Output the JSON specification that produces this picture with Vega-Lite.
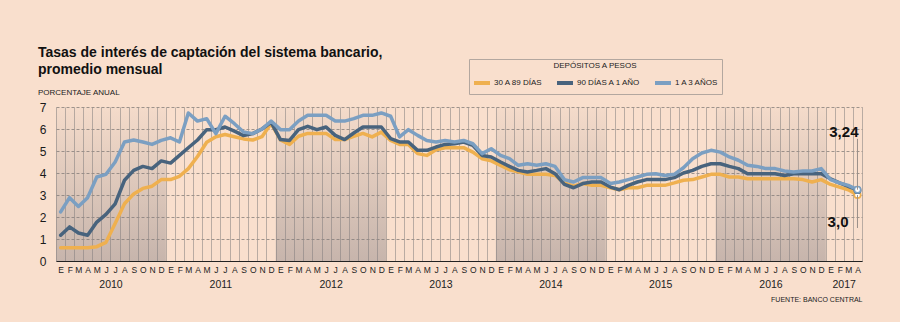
{
"$schema":"https://vega.github.io/schema/vega-lite/v6.json",
"autosize":"none","width":806,"height":154,
"padding":{"left":56,"top":107,"right":38,"bottom":61},
"background":"#F9DFCD",
"config":{"view":{"stroke":null},"font":"Liberation Sans",
 "axisY":{"grid":true,"gridColor":"#9E938B","gridDash":[3,2],"gridWidth":1,"ticks":false,"domain":false,"labelPadding":10,"labelOverlap":false,"labelFont":"Liberation Sans","labelFontSize":12,"labelColor":"#1A1A1A"}},
"title":{"text":["Tasas de interés de captación del sistema bancario,","promedio mensual"],"subtitle":"PORCENTAJE ANUAL","anchor":"start","frame":"group","dx":-18,"dy":48,"offset":10,"font":"Liberation Sans","fontSize":14,"fontWeight":"bold","color":"#111111","lineHeight":16.5,"subtitleFont":"Liberation Sans","subtitleFontSize":8,"subtitleColor":"#222222","subtitlePadding":12},
"datasets":{
"tasas":[
{"mes":"2010-01","serie":"30 A 89 DÍAS","tasa":0.6},{"mes":"2010-02","serie":"30 A 89 DÍAS","tasa":0.6},{"mes":"2010-03","serie":"30 A 89 DÍAS","tasa":0.6},{"mes":"2010-04","serie":"30 A 89 DÍAS","tasa":0.6},{"mes":"2010-05","serie":"30 A 89 DÍAS","tasa":0.65},{"mes":"2010-06","serie":"30 A 89 DÍAS","tasa":0.85},{"mes":"2010-07","serie":"30 A 89 DÍAS","tasa":1.7},{"mes":"2010-08","serie":"30 A 89 DÍAS","tasa":2.6},{"mes":"2010-09","serie":"30 A 89 DÍAS","tasa":3.05},{"mes":"2010-10","serie":"30 A 89 DÍAS","tasa":3.3},{"mes":"2010-11","serie":"30 A 89 DÍAS","tasa":3.4},{"mes":"2010-12","serie":"30 A 89 DÍAS","tasa":3.7},
{"mes":"2011-01","serie":"30 A 89 DÍAS","tasa":3.7},{"mes":"2011-02","serie":"30 A 89 DÍAS","tasa":3.85},{"mes":"2011-03","serie":"30 A 89 DÍAS","tasa":4.2},{"mes":"2011-04","serie":"30 A 89 DÍAS","tasa":4.75},{"mes":"2011-05","serie":"30 A 89 DÍAS","tasa":5.4},{"mes":"2011-06","serie":"30 A 89 DÍAS","tasa":5.65},{"mes":"2011-07","serie":"30 A 89 DÍAS","tasa":5.75},{"mes":"2011-08","serie":"30 A 89 DÍAS","tasa":5.65},{"mes":"2011-09","serie":"30 A 89 DÍAS","tasa":5.55},{"mes":"2011-10","serie":"30 A 89 DÍAS","tasa":5.5},{"mes":"2011-11","serie":"30 A 89 DÍAS","tasa":5.65},{"mes":"2011-12","serie":"30 A 89 DÍAS","tasa":6.25},
{"mes":"2012-01","serie":"30 A 89 DÍAS","tasa":5.5},{"mes":"2012-02","serie":"30 A 89 DÍAS","tasa":5.3},{"mes":"2012-03","serie":"30 A 89 DÍAS","tasa":5.67},{"mes":"2012-04","serie":"30 A 89 DÍAS","tasa":5.8},{"mes":"2012-05","serie":"30 A 89 DÍAS","tasa":5.8},{"mes":"2012-06","serie":"30 A 89 DÍAS","tasa":5.8},{"mes":"2012-07","serie":"30 A 89 DÍAS","tasa":5.52},{"mes":"2012-08","serie":"30 A 89 DÍAS","tasa":5.52},{"mes":"2012-09","serie":"30 A 89 DÍAS","tasa":5.67},{"mes":"2012-10","serie":"30 A 89 DÍAS","tasa":5.8},{"mes":"2012-11","serie":"30 A 89 DÍAS","tasa":5.64},{"mes":"2012-12","serie":"30 A 89 DÍAS","tasa":5.86},
{"mes":"2013-01","serie":"30 A 89 DÍAS","tasa":5.48},{"mes":"2013-02","serie":"30 A 89 DÍAS","tasa":5.3},{"mes":"2013-03","serie":"30 A 89 DÍAS","tasa":5.3},{"mes":"2013-04","serie":"30 A 89 DÍAS","tasa":4.88},{"mes":"2013-05","serie":"30 A 89 DÍAS","tasa":4.8},{"mes":"2013-06","serie":"30 A 89 DÍAS","tasa":5.06},{"mes":"2013-07","serie":"30 A 89 DÍAS","tasa":5.15},{"mes":"2013-08","serie":"30 A 89 DÍAS","tasa":5.15},{"mes":"2013-09","serie":"30 A 89 DÍAS","tasa":5.15},{"mes":"2013-10","serie":"30 A 89 DÍAS","tasa":4.95},{"mes":"2013-11","serie":"30 A 89 DÍAS","tasa":4.65},{"mes":"2013-12","serie":"30 A 89 DÍAS","tasa":4.55},
{"mes":"2014-01","serie":"30 A 89 DÍAS","tasa":4.35},{"mes":"2014-02","serie":"30 A 89 DÍAS","tasa":4.15},{"mes":"2014-03","serie":"30 A 89 DÍAS","tasa":4.05},{"mes":"2014-04","serie":"30 A 89 DÍAS","tasa":3.94},{"mes":"2014-05","serie":"30 A 89 DÍAS","tasa":3.94},{"mes":"2014-06","serie":"30 A 89 DÍAS","tasa":3.94},{"mes":"2014-07","serie":"30 A 89 DÍAS","tasa":3.89},{"mes":"2014-08","serie":"30 A 89 DÍAS","tasa":3.55},{"mes":"2014-09","serie":"30 A 89 DÍAS","tasa":3.4},{"mes":"2014-10","serie":"30 A 89 DÍAS","tasa":3.52},{"mes":"2014-11","serie":"30 A 89 DÍAS","tasa":3.44},{"mes":"2014-12","serie":"30 A 89 DÍAS","tasa":3.44},
{"mes":"2015-01","serie":"30 A 89 DÍAS","tasa":3.33},{"mes":"2015-02","serie":"30 A 89 DÍAS","tasa":3.24},{"mes":"2015-03","serie":"30 A 89 DÍAS","tasa":3.33},{"mes":"2015-04","serie":"30 A 89 DÍAS","tasa":3.33},{"mes":"2015-05","serie":"30 A 89 DÍAS","tasa":3.44},{"mes":"2015-06","serie":"30 A 89 DÍAS","tasa":3.44},{"mes":"2015-07","serie":"30 A 89 DÍAS","tasa":3.44},{"mes":"2015-08","serie":"30 A 89 DÍAS","tasa":3.55},{"mes":"2015-09","serie":"30 A 89 DÍAS","tasa":3.67},{"mes":"2015-10","serie":"30 A 89 DÍAS","tasa":3.7},{"mes":"2015-11","serie":"30 A 89 DÍAS","tasa":3.82},{"mes":"2015-12","serie":"30 A 89 DÍAS","tasa":3.94},
{"mes":"2016-01","serie":"30 A 89 DÍAS","tasa":3.94},{"mes":"2016-02","serie":"30 A 89 DÍAS","tasa":3.82},{"mes":"2016-03","serie":"30 A 89 DÍAS","tasa":3.82},{"mes":"2016-04","serie":"30 A 89 DÍAS","tasa":3.74},{"mes":"2016-05","serie":"30 A 89 DÍAS","tasa":3.74},{"mes":"2016-06","serie":"30 A 89 DÍAS","tasa":3.74},{"mes":"2016-07","serie":"30 A 89 DÍAS","tasa":3.74},{"mes":"2016-08","serie":"30 A 89 DÍAS","tasa":3.74},{"mes":"2016-09","serie":"30 A 89 DÍAS","tasa":3.74},{"mes":"2016-10","serie":"30 A 89 DÍAS","tasa":3.7},{"mes":"2016-11","serie":"30 A 89 DÍAS","tasa":3.59},{"mes":"2016-12","serie":"30 A 89 DÍAS","tasa":3.7},
{"mes":"2017-01","serie":"30 A 89 DÍAS","tasa":3.48},{"mes":"2017-02","serie":"30 A 89 DÍAS","tasa":3.36},{"mes":"2017-03","serie":"30 A 89 DÍAS","tasa":3.24},{"mes":"2017-04","serie":"30 A 89 DÍAS","tasa":3.0},
{"mes":"2010-01","serie":"90 DÍAS A 1 AÑO","tasa":1.17},{"mes":"2010-02","serie":"90 DÍAS A 1 AÑO","tasa":1.55},{"mes":"2010-03","serie":"90 DÍAS A 1 AÑO","tasa":1.27},{"mes":"2010-04","serie":"90 DÍAS A 1 AÑO","tasa":1.17},{"mes":"2010-05","serie":"90 DÍAS A 1 AÑO","tasa":1.77},{"mes":"2010-06","serie":"90 DÍAS A 1 AÑO","tasa":2.12},{"mes":"2010-07","serie":"90 DÍAS A 1 AÑO","tasa":2.6},{"mes":"2010-08","serie":"90 DÍAS A 1 AÑO","tasa":3.67},{"mes":"2010-09","serie":"90 DÍAS A 1 AÑO","tasa":4.12},{"mes":"2010-10","serie":"90 DÍAS A 1 AÑO","tasa":4.3},{"mes":"2010-11","serie":"90 DÍAS A 1 AÑO","tasa":4.2},{"mes":"2010-12","serie":"90 DÍAS A 1 AÑO","tasa":4.55},
{"mes":"2011-01","serie":"90 DÍAS A 1 AÑO","tasa":4.45},{"mes":"2011-02","serie":"90 DÍAS A 1 AÑO","tasa":4.8},{"mes":"2011-03","serie":"90 DÍAS A 1 AÑO","tasa":5.15},{"mes":"2011-04","serie":"90 DÍAS A 1 AÑO","tasa":5.5},{"mes":"2011-05","serie":"90 DÍAS A 1 AÑO","tasa":5.97},{"mes":"2011-06","serie":"90 DÍAS A 1 AÑO","tasa":5.97},{"mes":"2011-07","serie":"90 DÍAS A 1 AÑO","tasa":6.09},{"mes":"2011-08","serie":"90 DÍAS A 1 AÑO","tasa":5.9},{"mes":"2011-09","serie":"90 DÍAS A 1 AÑO","tasa":5.7},{"mes":"2011-10","serie":"90 DÍAS A 1 AÑO","tasa":5.79},{"mes":"2011-11","serie":"90 DÍAS A 1 AÑO","tasa":6.0},{"mes":"2011-12","serie":"90 DÍAS A 1 AÑO","tasa":6.3},
{"mes":"2012-01","serie":"90 DÍAS A 1 AÑO","tasa":5.52},{"mes":"2012-02","serie":"90 DÍAS A 1 AÑO","tasa":5.48},{"mes":"2012-03","serie":"90 DÍAS A 1 AÑO","tasa":5.97},{"mes":"2012-04","serie":"90 DÍAS A 1 AÑO","tasa":6.12},{"mes":"2012-05","serie":"90 DÍAS A 1 AÑO","tasa":5.97},{"mes":"2012-06","serie":"90 DÍAS A 1 AÑO","tasa":6.09},{"mes":"2012-07","serie":"90 DÍAS A 1 AÑO","tasa":5.71},{"mes":"2012-08","serie":"90 DÍAS A 1 AÑO","tasa":5.52},{"mes":"2012-09","serie":"90 DÍAS A 1 AÑO","tasa":5.82},{"mes":"2012-10","serie":"90 DÍAS A 1 AÑO","tasa":6.09},{"mes":"2012-11","serie":"90 DÍAS A 1 AÑO","tasa":6.09},{"mes":"2012-12","serie":"90 DÍAS A 1 AÑO","tasa":6.09},
{"mes":"2013-01","serie":"90 DÍAS A 1 AÑO","tasa":5.56},{"mes":"2013-02","serie":"90 DÍAS A 1 AÑO","tasa":5.41},{"mes":"2013-03","serie":"90 DÍAS A 1 AÑO","tasa":5.41},{"mes":"2013-04","serie":"90 DÍAS A 1 AÑO","tasa":5.03},{"mes":"2013-05","serie":"90 DÍAS A 1 AÑO","tasa":5.03},{"mes":"2013-06","serie":"90 DÍAS A 1 AÑO","tasa":5.18},{"mes":"2013-07","serie":"90 DÍAS A 1 AÑO","tasa":5.3},{"mes":"2013-08","serie":"90 DÍAS A 1 AÑO","tasa":5.33},{"mes":"2013-09","serie":"90 DÍAS A 1 AÑO","tasa":5.41},{"mes":"2013-10","serie":"90 DÍAS A 1 AÑO","tasa":5.26},{"mes":"2013-11","serie":"90 DÍAS A 1 AÑO","tasa":4.8},{"mes":"2013-12","serie":"90 DÍAS A 1 AÑO","tasa":4.73},
{"mes":"2014-01","serie":"90 DÍAS A 1 AÑO","tasa":4.5},{"mes":"2014-02","serie":"90 DÍAS A 1 AÑO","tasa":4.3},{"mes":"2014-03","serie":"90 DÍAS A 1 AÑO","tasa":4.12},{"mes":"2014-04","serie":"90 DÍAS A 1 AÑO","tasa":4.05},{"mes":"2014-05","serie":"90 DÍAS A 1 AÑO","tasa":4.12},{"mes":"2014-06","serie":"90 DÍAS A 1 AÑO","tasa":4.2},{"mes":"2014-07","serie":"90 DÍAS A 1 AÑO","tasa":3.97},{"mes":"2014-08","serie":"90 DÍAS A 1 AÑO","tasa":3.48},{"mes":"2014-09","serie":"90 DÍAS A 1 AÑO","tasa":3.33},{"mes":"2014-10","serie":"90 DÍAS A 1 AÑO","tasa":3.52},{"mes":"2014-11","serie":"90 DÍAS A 1 AÑO","tasa":3.59},{"mes":"2014-12","serie":"90 DÍAS A 1 AÑO","tasa":3.59},
{"mes":"2015-01","serie":"90 DÍAS A 1 AÑO","tasa":3.36},{"mes":"2015-02","serie":"90 DÍAS A 1 AÑO","tasa":3.24},{"mes":"2015-03","serie":"90 DÍAS A 1 AÑO","tasa":3.44},{"mes":"2015-04","serie":"90 DÍAS A 1 AÑO","tasa":3.59},{"mes":"2015-05","serie":"90 DÍAS A 1 AÑO","tasa":3.7},{"mes":"2015-06","serie":"90 DÍAS A 1 AÑO","tasa":3.7},{"mes":"2015-07","serie":"90 DÍAS A 1 AÑO","tasa":3.7},{"mes":"2015-08","serie":"90 DÍAS A 1 AÑO","tasa":3.79},{"mes":"2015-09","serie":"90 DÍAS A 1 AÑO","tasa":4.0},{"mes":"2015-10","serie":"90 DÍAS A 1 AÑO","tasa":4.12},{"mes":"2015-11","serie":"90 DÍAS A 1 AÑO","tasa":4.3},{"mes":"2015-12","serie":"90 DÍAS A 1 AÑO","tasa":4.42},
{"mes":"2016-01","serie":"90 DÍAS A 1 AÑO","tasa":4.42},{"mes":"2016-02","serie":"90 DÍAS A 1 AÑO","tasa":4.3},{"mes":"2016-03","serie":"90 DÍAS A 1 AÑO","tasa":4.2},{"mes":"2016-04","serie":"90 DÍAS A 1 AÑO","tasa":3.97},{"mes":"2016-05","serie":"90 DÍAS A 1 AÑO","tasa":3.97},{"mes":"2016-06","serie":"90 DÍAS A 1 AÑO","tasa":3.97},{"mes":"2016-07","serie":"90 DÍAS A 1 AÑO","tasa":3.97},{"mes":"2016-08","serie":"90 DÍAS A 1 AÑO","tasa":3.89},{"mes":"2016-09","serie":"90 DÍAS A 1 AÑO","tasa":3.97},{"mes":"2016-10","serie":"90 DÍAS A 1 AÑO","tasa":3.97},{"mes":"2016-11","serie":"90 DÍAS A 1 AÑO","tasa":3.97},{"mes":"2016-12","serie":"90 DÍAS A 1 AÑO","tasa":3.97},
{"mes":"2017-01","serie":"90 DÍAS A 1 AÑO","tasa":3.74},{"mes":"2017-02","serie":"90 DÍAS A 1 AÑO","tasa":3.55},{"mes":"2017-03","serie":"90 DÍAS A 1 AÑO","tasa":3.39},{"mes":"2017-04","serie":"90 DÍAS A 1 AÑO","tasa":3.22},
{"mes":"2010-01","serie":"1 A 3 AÑOS","tasa":2.23},{"mes":"2010-02","serie":"1 A 3 AÑOS","tasa":2.88},{"mes":"2010-03","serie":"1 A 3 AÑOS","tasa":2.48},{"mes":"2010-04","serie":"1 A 3 AÑOS","tasa":2.88},{"mes":"2010-05","serie":"1 A 3 AÑOS","tasa":3.82},{"mes":"2010-06","serie":"1 A 3 AÑOS","tasa":3.94},{"mes":"2010-07","serie":"1 A 3 AÑOS","tasa":4.5},{"mes":"2010-08","serie":"1 A 3 AÑOS","tasa":5.41},{"mes":"2010-09","serie":"1 A 3 AÑOS","tasa":5.5},{"mes":"2010-10","serie":"1 A 3 AÑOS","tasa":5.41},{"mes":"2010-11","serie":"1 A 3 AÑOS","tasa":5.3},{"mes":"2010-12","serie":"1 A 3 AÑOS","tasa":5.48},
{"mes":"2011-01","serie":"1 A 3 AÑOS","tasa":5.6},{"mes":"2011-02","serie":"1 A 3 AÑOS","tasa":5.41},{"mes":"2011-03","serie":"1 A 3 AÑOS","tasa":6.73},{"mes":"2011-04","serie":"1 A 3 AÑOS","tasa":6.36},{"mes":"2011-05","serie":"1 A 3 AÑOS","tasa":6.47},{"mes":"2011-06","serie":"1 A 3 AÑOS","tasa":5.79},{"mes":"2011-07","serie":"1 A 3 AÑOS","tasa":6.58},{"mes":"2011-08","serie":"1 A 3 AÑOS","tasa":6.24},{"mes":"2011-09","serie":"1 A 3 AÑOS","tasa":5.86},{"mes":"2011-10","serie":"1 A 3 AÑOS","tasa":5.79},{"mes":"2011-11","serie":"1 A 3 AÑOS","tasa":6.0},{"mes":"2011-12","serie":"1 A 3 AÑOS","tasa":6.36},
{"mes":"2012-01","serie":"1 A 3 AÑOS","tasa":5.97},{"mes":"2012-02","serie":"1 A 3 AÑOS","tasa":5.97},{"mes":"2012-03","serie":"1 A 3 AÑOS","tasa":6.36},{"mes":"2012-04","serie":"1 A 3 AÑOS","tasa":6.62},{"mes":"2012-05","serie":"1 A 3 AÑOS","tasa":6.62},{"mes":"2012-06","serie":"1 A 3 AÑOS","tasa":6.62},{"mes":"2012-07","serie":"1 A 3 AÑOS","tasa":6.36},{"mes":"2012-08","serie":"1 A 3 AÑOS","tasa":6.36},{"mes":"2012-09","serie":"1 A 3 AÑOS","tasa":6.47},{"mes":"2012-10","serie":"1 A 3 AÑOS","tasa":6.62},{"mes":"2012-11","serie":"1 A 3 AÑOS","tasa":6.62},{"mes":"2012-12","serie":"1 A 3 AÑOS","tasa":6.73},
{"mes":"2013-01","serie":"1 A 3 AÑOS","tasa":6.58},{"mes":"2013-02","serie":"1 A 3 AÑOS","tasa":5.64},{"mes":"2013-03","serie":"1 A 3 AÑOS","tasa":5.97},{"mes":"2013-04","serie":"1 A 3 AÑOS","tasa":5.71},{"mes":"2013-05","serie":"1 A 3 AÑOS","tasa":5.48},{"mes":"2013-06","serie":"1 A 3 AÑOS","tasa":5.41},{"mes":"2013-07","serie":"1 A 3 AÑOS","tasa":5.48},{"mes":"2013-08","serie":"1 A 3 AÑOS","tasa":5.41},{"mes":"2013-09","serie":"1 A 3 AÑOS","tasa":5.48},{"mes":"2013-10","serie":"1 A 3 AÑOS","tasa":5.33},{"mes":"2013-11","serie":"1 A 3 AÑOS","tasa":4.88},{"mes":"2013-12","serie":"1 A 3 AÑOS","tasa":5.1},
{"mes":"2014-01","serie":"1 A 3 AÑOS","tasa":4.8},{"mes":"2014-02","serie":"1 A 3 AÑOS","tasa":4.65},{"mes":"2014-03","serie":"1 A 3 AÑOS","tasa":4.35},{"mes":"2014-04","serie":"1 A 3 AÑOS","tasa":4.42},{"mes":"2014-05","serie":"1 A 3 AÑOS","tasa":4.35},{"mes":"2014-06","serie":"1 A 3 AÑOS","tasa":4.42},{"mes":"2014-07","serie":"1 A 3 AÑOS","tasa":4.3},{"mes":"2014-08","serie":"1 A 3 AÑOS","tasa":3.7},{"mes":"2014-09","serie":"1 A 3 AÑOS","tasa":3.59},{"mes":"2014-10","serie":"1 A 3 AÑOS","tasa":3.79},{"mes":"2014-11","serie":"1 A 3 AÑOS","tasa":3.79},{"mes":"2014-12","serie":"1 A 3 AÑOS","tasa":3.79},
{"mes":"2015-01","serie":"1 A 3 AÑOS","tasa":3.52},{"mes":"2015-02","serie":"1 A 3 AÑOS","tasa":3.59},{"mes":"2015-03","serie":"1 A 3 AÑOS","tasa":3.7},{"mes":"2015-04","serie":"1 A 3 AÑOS","tasa":3.82},{"mes":"2015-05","serie":"1 A 3 AÑOS","tasa":3.94},{"mes":"2015-06","serie":"1 A 3 AÑOS","tasa":3.97},{"mes":"2015-07","serie":"1 A 3 AÑOS","tasa":3.89},{"mes":"2015-08","serie":"1 A 3 AÑOS","tasa":3.94},{"mes":"2015-09","serie":"1 A 3 AÑOS","tasa":4.24},{"mes":"2015-10","serie":"1 A 3 AÑOS","tasa":4.65},{"mes":"2015-11","serie":"1 A 3 AÑOS","tasa":4.91},{"mes":"2015-12","serie":"1 A 3 AÑOS","tasa":5.03},
{"mes":"2016-01","serie":"1 A 3 AÑOS","tasa":4.95},{"mes":"2016-02","serie":"1 A 3 AÑOS","tasa":4.73},{"mes":"2016-03","serie":"1 A 3 AÑOS","tasa":4.58},{"mes":"2016-04","serie":"1 A 3 AÑOS","tasa":4.35},{"mes":"2016-05","serie":"1 A 3 AÑOS","tasa":4.3},{"mes":"2016-06","serie":"1 A 3 AÑOS","tasa":4.2},{"mes":"2016-07","serie":"1 A 3 AÑOS","tasa":4.2},{"mes":"2016-08","serie":"1 A 3 AÑOS","tasa":4.09},{"mes":"2016-09","serie":"1 A 3 AÑOS","tasa":4.05},{"mes":"2016-10","serie":"1 A 3 AÑOS","tasa":4.09},{"mes":"2016-11","serie":"1 A 3 AÑOS","tasa":4.09},{"mes":"2016-12","serie":"1 A 3 AÑOS","tasa":4.2},
{"mes":"2017-01","serie":"1 A 3 AÑOS","tasa":3.7},{"mes":"2017-02","serie":"1 A 3 AÑOS","tasa":3.55},{"mes":"2017-03","serie":"1 A 3 AÑOS","tasa":3.44},{"mes":"2017-04","serie":"1 A 3 AÑOS","tasa":3.24}
],
"bandas":[{"inicio":"2010-01","fin":"2011-01"},{"inicio":"2012-01","fin":"2013-01"},{"inicio":"2014-01","fin":"2015-01"},{"inicio":"2016-01","fin":"2017-01"}],
"notas":[{"mes":"2017-04","texto":"3,24","tasa":3.24},{"mes":"2017-04","texto":"3,0","tasa":3.0}]
},
"layer":[
{"layer":[
{"data":{"name":"bandas"},
 "mark":{"type":"rect","color":{"gradient":"linear","x1":0,"y1":1,"x2":0,"y2":0,"stops":[{"offset":0,"color":"rgba(129,122,126,0.42)"},{"offset":1,"color":"rgba(129,122,126,0.04)"}]}},
 "encoding":{
  "x":{"field":"inicio","type":"temporal","title":null,"scale":{"type":"utc","nice":false,"domain":[{"year":2010,"month":1,"date":1,"utc":true},{"year":2017,"month":5,"date":1,"utc":true}]},
   "axis":{"tickCount":{"interval":"month","step":1},"grid":true,"gridColor":"#B9ABA2","gridWidth":1,"ticks":false,"domain":true,"domainColor":"#222222","domainWidth":1,"labelExpr":"(utcyear(datum.value)==2017 && utcmonth(datum.value)==4) ? '' : ['E','F','M','A','M','J','J','A','S','O','N','D'][utcmonth(datum.value)]","labelOffset":4.6,"labelAlign":"center","labelFlush":false,"labelOverlap":false,"labelBound":false,"labelFont":"Liberation Sans","labelFontSize":8.5,"labelColor":"#222222","labelPadding":4}},
  "x2":{"field":"fin"}
 }},
{"data":{"name":"tasas"},
 "mark":{"type":"line","strokeWidth":3.5,"strokeJoin":"round","strokeCap":"round"},
 "encoding":{
  "x":{"field":"mes","type":"temporal","timeUnit":"utcyearmonth","bandPosition":0.5,"title":null,"scale":{"type":"utc","nice":false,"domain":[{"year":2010,"month":1,"date":1,"utc":true},{"year":2017,"month":5,"date":1,"utc":true}]}},
  "y":{"field":"tasa","type":"quantitative","title":null,"scale":{"domain":[0,7],"nice":false,"zero":true},
   "axis":{"values":[0,1,2,3,4,5,6,7]}},
  "color":{"field":"serie","type":"nominal","sort":["30 A 89 DÍAS","90 DÍAS A 1 AÑO","1 A 3 AÑOS"],
   "scale":{"domain":["30 A 89 DÍAS","90 DÍAS A 1 AÑO","1 A 3 AÑOS"],"range":["#EFB04F","#48637D","#7B9FC2"]},
   "legend":{"orient":"none","legendX":413,"legendY":-48,"direction":"horizontal","title":"DEPÓSITOS A PESOS","titleFont":"Liberation Sans","titleFontSize":8,"titleFontWeight":"normal","titleColor":"#222222","titleAnchor":"middle","titleAlign":"center","titlePadding":3,"labelFont":"Liberation Sans","labelFontSize":8,"labelColor":"#222222","symbolType":"stroke","symbolStrokeWidth":4,"symbolSize":256,"labelOffset":2,"columnPadding":6,"strokeColor":"#B3A79F","padding":3}},
  "order":{"field":"mes","type":"temporal"}
 }},
{"data":{"name":"tasas"},
 "transform":[{"filter":"time(datum.mes) >= utc(2017,3,1)"}],
 "mark":{"type":"point","filled":true,"fill":"#FFFFFF","size":40,"strokeWidth":1.6,"opacity":1},
 "encoding":{
  "x":{"field":"mes","type":"temporal","timeUnit":"utcyearmonth","bandPosition":0.5,"title":null},
  "y":{"field":"tasa","type":"quantitative","title":null,"axis":{"values":[0,1,2,3,4,5,6,7]}},
  "stroke":{"field":"serie","type":"nominal","legend":null,"scale":{"domain":["30 A 89 DÍAS","90 DÍAS A 1 AÑO","1 A 3 AÑOS"],"range":["#EFB04F","#48637D","#7B9FC2"]}}
 }},
{"data":{"name":"notas"},
 "transform":[{"filter":"datum.texto == '3,24'"}],
 "mark":{"type":"rule","color":"#9A8F88","strokeWidth":1},
 "encoding":{
  "x":{"field":"mes","type":"temporal","timeUnit":"utcyearmonth","bandPosition":0.5,"title":null},
  "y":{"field":"tasa","type":"quantitative","title":null,"axis":{"values":[0,1,2,3,4,5,6,7]}},
  "y2":{"datum":5.55}
 }},
{"data":{"name":"notas"},
 "transform":[{"filter":"datum.texto == '3,0'"}],
 "mark":{"type":"rule","color":"#9A8F88","strokeWidth":1},
 "encoding":{
  "x":{"field":"mes","type":"temporal","timeUnit":"utcyearmonth","bandPosition":0.5,"title":null},
  "y":{"field":"tasa","type":"quantitative","title":null,"axis":{"values":[0,1,2,3,4,5,6,7]}},
  "y2":{"datum":1.5}
 }},
{"data":{"name":"notas"},
 "transform":[{"filter":"datum.texto == '3,24'"}],
 "mark":{"type":"text","align":"right","baseline":"alphabetic","dx":1,"dy":-53,"font":"Liberation Sans","fontWeight":"bold","fontSize":15,"color":"#111111"},
 "encoding":{
  "x":{"field":"mes","type":"temporal","timeUnit":"utcyearmonth","bandPosition":0.5,"title":null},
  "y":{"field":"tasa","type":"quantitative","title":null,"axis":{"values":[0,1,2,3,4,5,6,7]}},
  "text":{"field":"texto"}
 }},
{"data":{"name":"notas"},
 "transform":[{"filter":"datum.texto == '3,0'"}],
 "mark":{"type":"text","align":"right","baseline":"alphabetic","dx":-9,"dy":32,"font":"Liberation Sans","fontWeight":"bold","fontSize":15,"color":"#111111"},
 "encoding":{
  "x":{"field":"mes","type":"temporal","timeUnit":"utcyearmonth","bandPosition":0.5,"title":null},
  "y":{"field":"tasa","type":"quantitative","title":null,"axis":{"values":[0,1,2,3,4,5,6,7]}},
  "text":{"field":"texto"}
 }}
]},
{"data":{"values":[{"mes":"2013-07","tasa":0}]},
 "mark":{"type":"point","opacity":0},
 "encoding":{
  "x":{"field":"mes","type":"temporal","scale":{"type":"utc","nice":false,"domain":[{"year":2010,"month":1,"date":1,"utc":true},{"year":2017,"month":5,"date":1,"utc":true}]},
   "axis":{"orient":"bottom","title":"FUENTE: BANCO CENTRAL","titleAnchor":"end","titleFont":"Liberation Sans","titleFontSize":7,"titleFontWeight":"normal","titleColor":"#222222","titlePadding":6,"values":[{"year":2010,"month":7,"date":1,"utc":true},{"year":2011,"month":7,"date":1,"utc":true},{"year":2012,"month":7,"date":1,"utc":true},{"year":2013,"month":7,"date":1,"utc":true},{"year":2014,"month":7,"date":1,"utc":true},{"year":2015,"month":7,"date":1,"utc":true},{"year":2016,"month":7,"date":1,"utc":true},{"year":2017,"month":3,"date":1,"utc":true}],"labelExpr":"utcFormat(datum.value,'%Y')","grid":false,"ticks":false,"domain":false,"labelPadding":18,"labelFont":"Liberation Sans","labelFontSize":10.5,"labelColor":"#222222","labelFlush":false,"labelOverlap":false,"labelBound":false}},
  "y":{"field":"tasa","type":"quantitative","title":null,"axis":{"values":[0,1,2,3,4,5,6,7]}}
 }}
],
"resolve":{"scale":{"x":"independent","y":"shared"}}
}
